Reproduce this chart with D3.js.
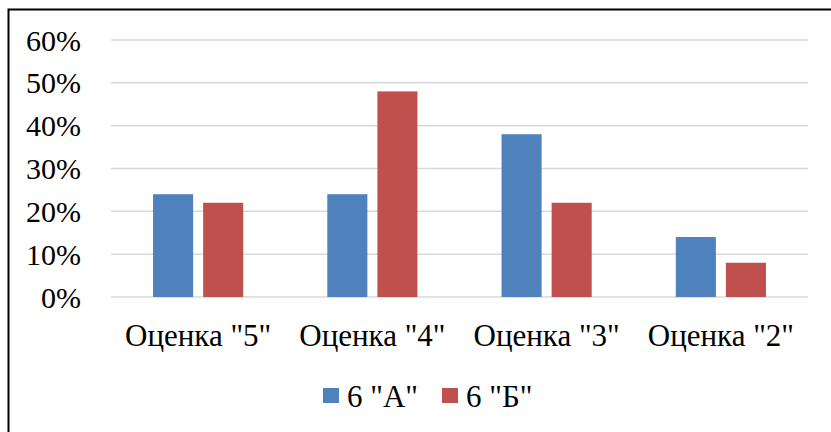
<!DOCTYPE html>
<html>
<head>
<meta charset="utf-8">
<script src="https://cdn.jsdelivr.net/npm/d3@7"></script>
</head>
<body style="margin:0">
<script>
const categories = ['Оценка "5"', 'Оценка "4"', 'Оценка "3"', 'Оценка "2"'];
const seriesNames = ['6 "А"', '6 "Б"'];
const valuesA = [0.24, 0.24, 0.38, 0.14];
const valuesB = [0.22, 0.48, 0.22, 0.08];
const yTicks = [0, 0.1, 0.2, 0.3, 0.4, 0.5, 0.6];
const colors = ["#4f81bd", "#c0504d"];

const width = 831;
const height = 432;
const margin = {top: 40, right: 23, bottom: 135, left: 111};
const fontFamily = '"Times New Roman", "Liberation Serif", Tinos';

const svg = d3.select("body")
  .append("svg")
    .attr("width", width)
    .attr("height", height)
    .attr("font-family", fontFamily)
    .style("font-family", fontFamily)
    .style("display", "block");

// outer chart frame (only top + left visible in the crop)
svg.append("rect")
    .attr("x", 8.5)
    .attr("y", 9.5)
    .attr("width", width + 20)
    .attr("height", height + 20)
    .attr("fill", "none")
    .attr("stroke", "#000")
    .attr("stroke-width", 2);

const x = d3.scaleBand()
  .domain(categories)
  .range([margin.left, width - margin.right]);

const xInner = d3.scaleBand()
  .domain(seriesNames)
  .range([0, x.bandwidth()])
  .paddingInner(0.2)
  .paddingOuter(0.84);

const y = d3.scaleLinear()
  .domain([0, 0.6])
  .range([height - margin.bottom, margin.top]);

// gridlines
svg.append("g")
  .selectAll("line")
  .data(yTicks)
  .join("line")
    .attr("x1", margin.left)
    .attr("x2", width - margin.right)
    .attr("y1", d => y(d))
    .attr("y2", d => y(d))
    .attr("stroke", "#d9d9d9")
    .attr("stroke-width", 1.5);

// y labels
svg.append("g")
  .selectAll("text")
  .data(yTicks)
  .join("text")
    .attr("x", 81)
    .attr("y", d => y(d))
    .attr("dy", "0.35em")
    .attr("text-anchor", "end")
    .attr("font-size", 30)
    .text(d => d3.format(".0%")(d));

// bars
const rows = categories.map((c, i) => ({cat: c, vals: [valuesA[i], valuesB[i]]}));

svg.append("g")
  .selectAll("g")
  .data(rows)
  .join("g")
    .attr("transform", d => `translate(${x(d.cat)},0)`)
  .selectAll("rect")
  .data(d => d.vals.map((v, j) => ({s: seriesNames[j], v, j})))
  .join("rect")
    .attr("x", d => xInner(d.s))
    .attr("width", xInner.bandwidth())
    .attr("y", d => y(d.v))
    .attr("height", d => y(0) - y(d.v))
    .attr("fill", d => colors[d.j]);

// category labels
svg.append("g")
  .selectAll("text")
  .data(categories)
  .join("text")
    .attr("x", d => x(d) + x.bandwidth() / 2)
    .attr("y", 346)
    .attr("text-anchor", "middle")
    .attr("font-size", 31)
    .text(d => d);

// legend
const legendX = [323, 442];
const legend = svg.append("g")
  .selectAll("g")
  .data(seriesNames)
  .join("g")
    .attr("transform", (d, i) => `translate(${legendX[i]},388)`);

legend.append("rect")
    .attr("width", 16)
    .attr("height", 15)
    .attr("fill", (d, i) => colors[i]);

legend.append("text")
    .attr("x", 24)
    .attr("y", 19)
    .attr("font-size", 31)
    .text(d => d);
</script>
</body>
</html>
